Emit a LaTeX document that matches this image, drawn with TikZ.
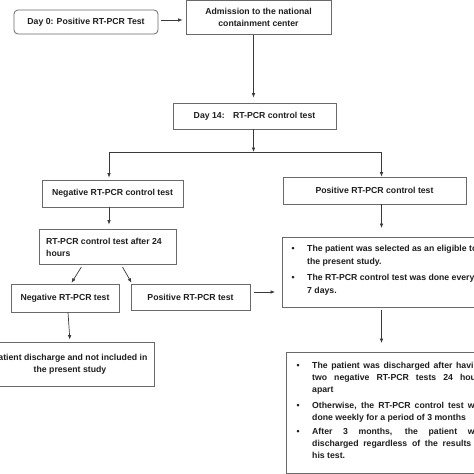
\documentclass[tikz,border=0pt]{standalone}
\usepackage{fontspec}
\setmainfont{Liberation Sans}
\usetikzlibrary{arrows.meta}
\definecolor{boxgray}{HTML}{6A6A6A}
\definecolor{lngray}{HTML}{3A3A3A}
\definecolor{txt}{HTML}{1E1E1E}
\newcommand\dgfont{\bfseries\fontsize{8.7}{12}\selectfont}
\newcommand\dgfontb{\bfseries\fontsize{8.7}{13}\selectfont}
\begin{document}
\begin{tikzpicture}[x=1pt,y=-1pt,
  box/.style={draw=boxgray, line width=0.8pt, inner sep=0pt, text=txt, font=\dgfont, align=center},
  txtn/.style={inner sep=0pt, align=left, text=txt, font=\dgfont, anchor=north west},
  conn/.style={draw=lngray, line width=0.7pt, -{Latex[length=4.5pt,width=3.6pt]}},
  plain/.style={draw=lngray, line width=0.7pt}]
\useasboundingbox (0,0) rectangle (474,474);
\fill[white] (0,0) rectangle (474,474);
\clip (0,0) rectangle (474,474);

% helper coordinates
\coordinate (j) at (253.5,152);
\coordinate (c1) at (381.5,0);
\coordinate (c2) at (109,0);
\coordinate (c3) at (0,292);
\coordinate (c4) at (0,20);

% boxes
\node[box, rounded corners=4pt, minimum width=144pt, minimum height=24pt] (d0) at (86,22) {Day 0: Positive RT-PCR Test};
\node[box, minimum width=145pt, minimum height=34pt] (adm) at (258.5,17.5) {Admission to the national\\containment center};
\node[box, minimum width=163pt, minimum height=26pt] (d14) at (254.5,116) {Day 14:\hspace{8.4pt}RT-PCR control test};
\node[box, minimum width=141pt, minimum height=27pt] (negc) at (112.5,193.5) {Negative RT-PCR control test};
\node[box, minimum width=183pt, minimum height=27pt] (posc) at (374.5,190.5) {Positive RT-PCR control test};
\node[box, minimum width=137pt, minimum height=35pt] (a24) at (107.5,246.5) {};
\node[txtn] (a24t) at (46,235.6) {\strut RT-PCR control test after 24\\hours};
\node[box, minimum width=108pt, minimum height=28pt] (negt) at (65,298) {Negative RT-PCR test};
\node[box, minimum width=119pt, minimum height=26pt] (post) at (190.5,297) {Positive RT-PCR test};
\node[box, minimum width=168pt, minimum height=44pt] (pd) at (70,364) {Patient discharge and not included in\\the present study};

\node[box, anchor=north west, minimum width=240pt, minimum height=70pt] (b1) at (282,237) {};
\node[txtn, font=\dgfontb] (b1t) at (291.5,241.9) {\strut\makebox[15.5pt][l]{\textbullet}The patient was selected as an eligible to\\
\hspace*{15.5pt}the present study.\\[3pt]
\makebox[15.5pt][l]{\textbullet}The RT-PCR control test was done every\\
\hspace*{15.5pt}7 days.};

\node[box, anchor=north west, minimum width=240pt, minimum height=121pt] (b2) at (286,352) {};
\node[txtn] (b2t) at (296.5,359.6) {\strut\makebox[15.5pt][l]{\textbullet}\makebox[172pt][s]{The patient was discharged after having}\\
\hspace*{15.5pt}\makebox[172pt][s]{two negative RT-PCR tests 24 hours}\\
\hspace*{15.5pt}apart\\[4pt]
\makebox[15.5pt][l]{\textbullet}\makebox[172pt][s]{Otherwise, the RT-PCR control test was}\\
\hspace*{15.5pt}done weekly for a period of 3 months\\[2pt]
\makebox[15.5pt][l]{\textbullet}\makebox[172pt][s]{After 3 months, the patient was}\\
\hspace*{15.5pt}\makebox[172pt][s]{discharged regardless of the results of}\\
\hspace*{15.5pt}his test.};

% connectors
\draw[conn, shorten <=3pt, shorten >=3pt] (d0.east |- c4) -- (adm.west |- c4);
\draw[conn, shorten >=5pt] (adm.south -| j) -- (d14.north -| j);
\draw[conn] (d14.south -| j) -- (j);
\draw[plain] (j -| c2) -- (j -| c1);
\draw[conn, shorten >=2pt] (j -| c2) -- (negc.north -| c2);
\draw[conn] (j -| c1) -- (posc.north -| c1);
\draw[conn, shorten >=4pt] (negc.south -| c2) -- (a24.north -| c2);
\draw[conn, shorten <=3pt, shorten >=1pt] ([xshift=-24.5pt]a24.south) -- ([xshift=6pt]negt.north);
\draw[conn, shorten <=3pt, shorten >=1pt] ([xshift=13.5pt]a24.south) -- ([xshift=-58.5pt]post.north);
\draw[conn, shorten >=2pt] ([xshift=3pt]negt.south) -- (pd.north);
\draw[conn, shorten <=4pt, shorten >=7pt] (post.east |- c3) -- (b1.west |- c3);
\draw[conn, shorten >=9pt] (posc.south -| c1) -- (b1.north -| c1);
\draw[conn, shorten <=2pt, shorten >=9pt] (b1.south -| c1) -- (b2.north -| c1);
\end{tikzpicture}
\end{document}
